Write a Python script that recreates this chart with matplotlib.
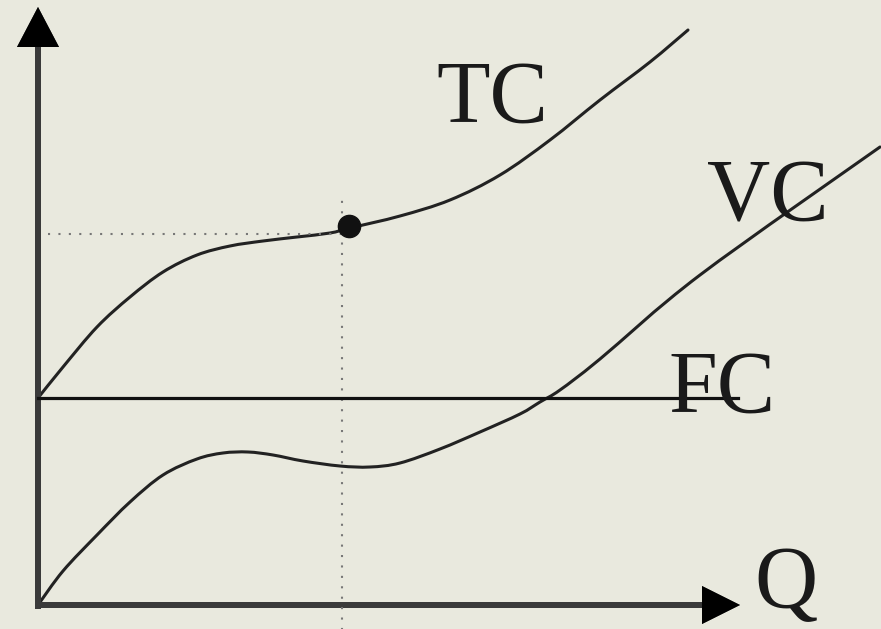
import matplotlib
matplotlib.use("Agg")
import numpy as np
import matplotlib.pyplot as plt
from matplotlib.path import Path
from matplotlib.patches import PathPatch

plt.rcParams['font.family'] = ['Liberation Serif', 'DejaVu Serif']

# 坐标单位大致按像素, 原点在 Q 轴和纵轴的交点
tc_q = [0, 25, 59, 92, 125, 159, 192, 225, 259, 292, 312, 362, 412, 462, 512, 562, 612, 650]
tc_v = [207, 238, 278, 308, 333, 350, 359, 364, 368, 372, 377, 389, 405, 430, 465, 505, 543, 575]

vc_q = [0, 25, 59, 92, 125, 159, 185, 210, 235, 265, 302, 332, 362, 402, 442, 482, 502, 522, 562, 662, 842]
vc_v = [0, 34, 70, 103, 130, 146, 152, 153, 150, 144, 139, 138, 142, 156, 173, 191, 203, 215, 246, 330, 458]

fc_q = [0, 700]
fc_v = [207, 207]

point_q = 311
point_v = 379
guide_q = 304
guide_v = 371

labels = ["TC", "VC", "FC", "Q"]
label_pos = [(454, 483), (730, 385), (684, 193), (748, -2)]

bg = '#e9e9de'


def smooth_path(xs, ys):
    # 用三次贝塞尔把点连成平滑曲线 (Catmull-Rom 控制点)
    p = np.column_stack([xs, ys]).astype(float)
    n = len(p)
    verts = [p[0]]
    codes = [Path.MOVETO]
    for i in range(n - 1):
        p0 = p[i - 1] if i > 0 else p[i]
        p1 = p[i]
        p2 = p[i + 1]
        p3 = p[i + 2] if i + 2 < n else p[i + 1]
        verts += [p1 + (p2 - p0) / 6, p2 - (p3 - p1) / 6, p2]
        codes += [Path.CURVE4] * 3
    return Path(verts, codes)


fig = plt.figure(figsize=(8.81, 6.29), dpi=100)
fig.patch.set_facecolor(bg)
ax = fig.add_axes([0, 0, 1, 1])
ax.set_facecolor(bg)
ax.set_xlim(-38, 843)
ax.set_ylim(-24, 605)
ax.axis('off')

# 辅助虚线
ax.plot([10, guide_q], [guide_v, guide_v], color='#777777', lw=1.5, linestyle=(0, (1, 4)))
ax.plot([guide_q, guide_q], [-30, 410], color='#777777', lw=1.5, linestyle=(0, (1, 4)))

# 曲线
ax.plot(fc_q, fc_v, color='#111111', lw=2.3)
for xs, ys in [(tc_q, tc_v), (vc_q, vc_v)]:
    ax.add_patch(PathPatch(smooth_path(xs, ys), fill=False, ec='#222222', lw=2.2,
                           capstyle='round'))
ax.plot([point_q], [point_v], 'o', color='#111111', markersize=16)

# 坐标轴箭头
ax.arrow(0, -4, 0, 602, width=6, head_width=42, head_length=40,
         length_includes_head=True, color='#3a3a3a', ec='none')
ax.arrow(-3, 0, 705, 0, width=6, head_width=38, head_length=38,
         length_includes_head=True, color='#3a3a3a', ec='none')
ax.arrow(0, 556, 0, 42, width=0.1, head_width=42, head_length=40,
         length_includes_head=True, color='black', ec='none')
ax.arrow(664, 0, 38, 0, width=0.1, head_width=38, head_length=38,
         length_includes_head=True, color='black', ec='none')

for txt, (x, y) in zip(labels, label_pos):
    ax.text(x, y, txt, fontsize=63, ha='center', va='baseline', color='#1a1a1a')

fig.savefig("out.png", dpi=100, facecolor=bg)
